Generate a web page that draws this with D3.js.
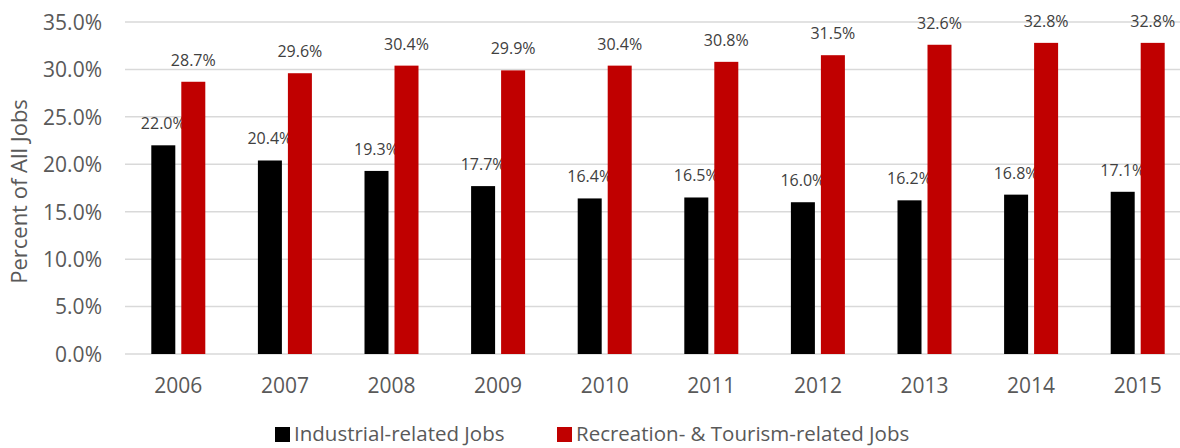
<!DOCTYPE html>
<html>
<head>
<meta charset="utf-8">
<script src="https://cdn.jsdelivr.net/npm/d3@7"></script>
<style>
  html, body { margin: 0; padding: 0; background: #fff; }
  svg text { font-family: "Open Sans", sans-serif; }
</style>
</head>
<body>
<svg id="chart" width="1180" height="448"></svg>
<script>
const years = ["2006","2007","2008","2009","2010","2011","2012","2013","2014","2015"];
const industrial = [22.0, 20.4, 19.3, 17.7, 16.4, 16.5, 16.0, 16.2, 16.8, 17.1];
const recreation = [28.7, 29.6, 30.4, 29.9, 30.4, 30.8, 31.5, 32.6, 32.8, 32.8];
const seriesNames = ["Industrial-related Jobs", "Recreation- & Tourism-related Jobs"];
const seriesColors = ["#000000", "#C00000"];
const yTicks = [0, 5, 10, 15, 20, 25, 30, 35];
const yTitle = "Percent of All Jobs";

(function () {
const svg = d3.select("#chart");
const pLeft = 125, pRight = 1191, pTop = 22, pBottom = 354;

const x = d3.scaleBand().domain(years).range([pLeft, pRight]).padding(0);
const xs = d3.scaleBand().domain([0, 1])
  .range([x.bandwidth() / 2 - 27, x.bandwidth() / 2 + 27]).paddingInner(0.2).paddingOuter(0);
const y = d3.scaleLinear().domain([0, 35]).range([pBottom, pTop]);

// gridlines
svg.append("g").selectAll("line").data(yTicks).join("line")
  .attr("x1", pLeft).attr("x2", 1180)
  .attr("y1", d => y(d)).attr("y2", d => y(d))
  .attr("stroke", "#D9D9D9").attr("stroke-width", 1.5);

// y axis labels
const yAxis = d3.axisLeft(y).tickValues(yTicks).tickFormat(d => d.toFixed(1) + "%").tickSize(0).tickPadding(0);
const yg = svg.append("g").attr("transform", `translate(${pLeft - 23},0)`).call(yAxis);
yg.select(".domain").remove();
yg.selectAll("text").attr("fill", "#595959").attr("font-size", 21)
  .attr("font-family", "'Open Sans', sans-serif").attr("dy", "0.35em");

// x axis labels
const xAxis = d3.axisBottom(x).tickSize(0).tickPadding(0);
const xg = svg.append("g").attr("transform", `translate(0,${pBottom})`).call(xAxis);
xg.select(".domain").remove();
xg.selectAll("text").attr("fill", "#595959").attr("font-size", 21)
  .attr("font-family", "'Open Sans', sans-serif").attr("y", 39).attr("dy", 0);

// y title
svg.append("text")
  .attr("transform", `translate(27,${(90 + 293) / 2}) rotate(-90)`)
  .attr("text-anchor", "middle").attr("fill", "#595959").attr("font-size", 22)
  .text(yTitle);

// bars
const allSeries = [industrial, recreation];
allSeries.forEach((vals, si) => {
  const g = svg.append("g");
  g.selectAll("rect").data(years).join("rect")
    .attr("x", d => x(d) + xs(si))
    .attr("width", xs.bandwidth())
    .attr("y", (d, i) => y(vals[i]))
    .attr("height", (d, i) => pBottom - y(vals[i]))
    .attr("fill", seriesColors[si]);
  g.selectAll("text").data(years).join("text")
    .attr("x", d => x(d) + xs(si) + xs.bandwidth() / 2)
    .attr("y", (d, i) => y(vals[i]) - 16)
    .attr("text-anchor", "middle")
    .attr("fill", "#404040").attr("font-size", 16)
    .text((d, i) => vals[i].toFixed(1) + "%");
});

// legend
const legendX = [275, 557];
seriesNames.forEach((name, i) => {
  const g = svg.append("g").attr("transform", `translate(${legendX[i]},0)`);
  g.append("rect").attr("x", 0).attr("y", 427).attr("width", 15).attr("height", 15).attr("fill", seriesColors[i]);
  g.append("text").attr("x", 19).attr("y", 441).attr("fill", "#595959").attr("font-size", 20.5).text(name);
});
})();
</script>
</body>
</html>
